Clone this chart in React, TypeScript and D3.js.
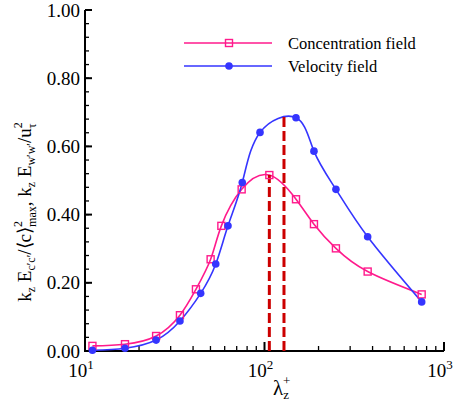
import * as d3 from 'd3';

const lambdaConc = [11.0, 16.7, 24.9, 33.8, 41.5, 50.1, 57.5, 74.6, 106.4, 149.8, 188.6, 250, 375.6, 751];
const conc = [0.015, 0.02, 0.044, 0.105, 0.181, 0.269, 0.367, 0.474, 0.516, 0.445, 0.372, 0.301, 0.233, 0.166];
const lambdaVel = [11.0, 16.7, 24.9, 33.8, 44.1, 53.5, 62.6, 75.2, 94.4, 149.8, 188.6, 250, 375.6, 751];
const vel = [0.002, 0.008, 0.032, 0.088, 0.169, 0.255, 0.367, 0.494, 0.641, 0.684, 0.586, 0.474, 0.335, 0.144];
// peak positions marked with dashed lines
const peaks = [
  { lambda: 106.4, value: 0.516 },
  { lambda: 128.4, value: 0.694 },
];
const yTicks = [0, 0.2, 0.4, 0.6, 0.8, 1.0];
const xDecades = [10, 100, 1000];

const PINK = '#ff1a8c';
const BLUE = '#3535ff';
const FONT = 'Liberation Serif';

export default function App() {
  const x = d3.scaleLog().domain([10, 1000]).range([85, 444]);
  const y = d3.scaleLinear().domain([0, 1]).range([351, 10]);

  const line = d3.line<[number, number]>()
    .x(d => x(d[0])).y(d => y(d[1]))
    .curve(d3.curveNatural);

  const concPts = lambdaConc.map((l, i) => [l, conc[i]] as [number, number]);
  const velPts = lambdaVel.map((l, i) => [l, vel[i]] as [number, number]);

  const minorY = d3.range(0, 1.0001, 0.04);
  const minorX: number[] = [];
  [10, 100].forEach(d => { for (let k = 2; k <= 9; k++) minorX.push(d * k); });

  return (
    <svg width={454} height={404} fontFamily={FONT}
      style={{ position: 'absolute', left: 0, top: 0, background: '#fff' }}>
      {/* axes */}
      <line x1={85} x2={85} y1={y(1)} y2={y(0) + 1} stroke="#000" strokeWidth={2} />
      <line x1={84} x2={444} y1={y(0)} y2={y(0)} stroke="#000" strokeWidth={2} />
      {minorY.map((v, i) => (
        <line key={'my' + i} x1={85} x2={89} y1={y(v)} y2={y(v)} stroke="#000" strokeWidth={1.3} />
      ))}
      {yTicks.map(v => (
        <g key={'y' + v}>
          <line x1={85} x2={92} y1={y(v)} y2={y(v)} stroke="#000" strokeWidth={2} />
          <text fontFamily={FONT} x={80} y={y(v) + 6.5} textAnchor="end" fontSize={19}>{v.toFixed(2)}</text>
        </g>
      ))}
      {minorX.map((v, i) => (
        <line key={'mx' + i} x1={x(v)} x2={x(v)} y1={y(0)} y2={y(0) - 5} stroke="#000" strokeWidth={1.3} />
      ))}
      {xDecades.map(v => (
        <g key={'x' + v}>
          <line x1={x(v)} x2={x(v)} y1={y(0)} y2={y(0) - 9} stroke="#000" strokeWidth={2} />
          <text fontFamily={FONT} x={x(v) - 4} y={377} textAnchor="middle" fontSize={19}>
            10<tspan dy={-8} fontSize={13}>{Math.round(Math.log10(v))}</tspan>
          </text>
        </g>
      ))}

      {/* series */}
      <path d={line(concPts) || ''} fill="none" stroke={PINK} strokeWidth={1.6} />
      <path d={line(velPts) || ''} fill="none" stroke={BLUE} strokeWidth={1.6} />
      {peaks.map((p, i) => (
        <line key={'pk' + i} x1={x(p.lambda)} x2={x(p.lambda)} y1={y(0)} y2={y(p.value)}
          stroke="#cc0000" strokeWidth={3} strokeDasharray="10,4" />
      ))}
      {concPts.map((d, i) => (
        <rect key={'c' + i} x={x(d[0]) - 3.5} y={y(d[1]) - 3.5} width={7} height={7}
          fill="none" stroke={PINK} strokeWidth={1.4} />
      ))}
      {velPts.map((d, i) => (
        <circle key={'v' + i} cx={x(d[0])} cy={y(d[1])} r={3.8} fill={BLUE} />
      ))}

      {/* legend */}
      <line x1={184} x2={272} y1={43} y2={43} stroke={PINK} strokeWidth={1.6} />
      <rect x={225.5} y={39.5} width={7} height={7} fill="none" stroke={PINK} strokeWidth={1.4} />
      <text fontFamily={FONT} x={288} y={49} fontSize={16.5}>Concentration field</text>
      <line x1={184} x2={272} y1={66} y2={66} stroke={BLUE} strokeWidth={1.6} />
      <circle cx={229} cy={66} r={3.8} fill={BLUE} />
      <text fontFamily={FONT} x={288} y={72} fontSize={16.5}>Velocity field</text>

      {/* x title */}
      <text fontFamily={FONT} x={273} y={395} fontSize={21}>
        λ<tspan dy={4} fontSize={13}>z</tspan><tspan dx={-6} dy={-14} fontSize={13}>+</tspan>
      </text>

      {/* y title */}
      <text fontFamily={FONT} transform="translate(31,212) rotate(-90)" textAnchor="middle" fontSize={19}>
        k<tspan dy={4} fontSize={12}>z</tspan>
        <tspan dy={-4}> E</tspan><tspan dy={4} fontSize={12}>c′c′</tspan>
        <tspan dy={-4}>/⟨c⟩</tspan><tspan dy={-9} fontSize={12}>2</tspan>
        <tspan dx={-6} dy={14} fontSize={12}>max</tspan>
        <tspan dy={-5}>, k</tspan><tspan dy={4} fontSize={12}>z</tspan>
        <tspan dy={-4}> E</tspan><tspan dy={4} fontSize={12}>w′w′</tspan>
        <tspan dy={-4}>/u</tspan><tspan dy={-9} fontSize={12}>2</tspan>
        <tspan dx={-6} dy={14} fontSize={12}>τ</tspan>
      </text>
    </svg>
  );
}
